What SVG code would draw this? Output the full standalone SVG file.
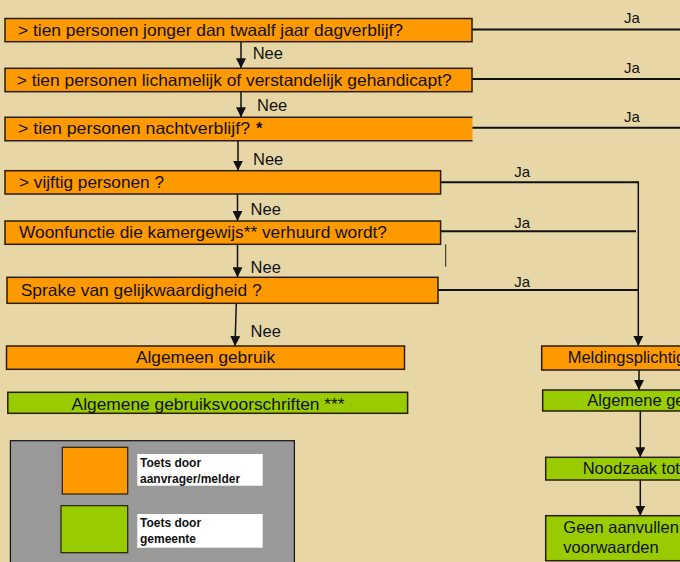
<svg xmlns="http://www.w3.org/2000/svg" width="680" height="562" viewBox="0 0 680 562">
<style>
.bg{fill:#E7D7A7}
.o{fill:#FF9900;stroke:#2a1e00;stroke-width:1.5}
.g{fill:#99CC00;stroke:#2a1e00;stroke-width:1.5}
.t{font-family:"Liberation Sans",Arial,Helvetica,sans-serif;font-size:16.5px;fill:#111}
.ja{font-family:"Liberation Sans",Arial,Helvetica,sans-serif;font-size:15px;fill:#111}
.lg{font-family:"Liberation Sans",Arial,Helvetica,sans-serif;font-size:12px;font-weight:bold;fill:#111}
.c{fill:none;stroke:#111;stroke-width:2}
.a{fill:none;stroke:#111;stroke-width:1.5;marker-end:url(#ah)}
</style>
<defs>
<marker id="ah" markerUnits="userSpaceOnUse" markerWidth="10" markerHeight="10" refX="10" refY="5" orient="auto" viewBox="0 0 10 10">
<path d="M0,0 L10,5 L0,10 z" fill="#111"/>
</marker>
</defs>
<rect class="bg" x="0" y="0" width="680" height="562"/>

<g id="connectors">
<line class="c" x1="472" y1="29.5" x2="680" y2="29.5"/>
<line class="c" x1="472" y1="79" x2="680" y2="79"/>
<line class="c" x1="472" y1="127.7" x2="680" y2="127.7"/>
<line class="c" x1="440.6" y1="182.3" x2="638.3" y2="182.3"/>
<line class="c" x1="440.6" y1="231.3" x2="636" y2="231.3"/>
<line class="c" x1="438" y1="290" x2="638.3" y2="290"/>
<line class="a" x1="638.3" y1="181.3" x2="638.3" y2="346"/>
<line x1="445.7" y1="244.3" x2="445.7" y2="266.7" stroke="#222" stroke-width="1"/>
<line class="a" x1="241" y1="41.7" x2="241" y2="68.3"/>
<line class="a" x1="241" y1="91.7" x2="241" y2="117.3"/>
<line class="a" x1="238" y1="140.7" x2="238" y2="170.7"/>
<line class="a" x1="237.5" y1="194" x2="237.5" y2="221"/>
<line class="a" x1="237.5" y1="244" x2="237.5" y2="277.3"/>
<line class="a" x1="236.3" y1="303.3" x2="235" y2="346"/>
<line class="a" x1="639" y1="370" x2="639" y2="390"/>
<line class="a" x1="640.3" y1="411" x2="640.3" y2="457.3"/>
<line class="a" x1="640.3" y1="480" x2="640.3" y2="515.7"/>
<text class="ja" x="624" y="23.3">Ja</text>
<text class="ja" x="624" y="72.7">Ja</text>
<text class="ja" x="624" y="122">Ja</text>
<text class="ja" x="514.3" y="177.3">Ja</text>
<text class="ja" x="514.3" y="228.3">Ja</text>
<text class="ja" x="514.3" y="286.7">Ja</text>
<text class="t" x="252.7" y="59.3">Nee</text>
<text class="t" x="257" y="110.7">Nee</text>
<text class="t" x="253" y="165">Nee</text>
<text class="t" x="250.6" y="215.3">Nee</text>
<text class="t" x="250.6" y="272.7">Nee</text>
<text class="t" x="250.6" y="336.7">Nee</text>
</g>

<g id="q1">
<rect class="o" x="5" y="18.5" width="467" height="23.2"/>
<text class="t" x="18" y="35.5" textLength="385" lengthAdjust="spacingAndGlyphs">&gt; tien personen jonger dan twaalf jaar dagverblijf?</text>
</g>
<g id="q2">
<rect class="o" x="5" y="68.3" width="467" height="23.4"/>
<text class="t" x="16.7" y="86" textLength="435" lengthAdjust="spacingAndGlyphs">&gt; tien personen lichamelijk of verstandelijk gehandicapt?</text>
</g>
<g id="q3">
<rect x="5" y="117.3" width="467.5" height="23.4" fill="#FF9900"/>
<path d="M472.5,117.3 H5 V140.7 H472.5" fill="none" stroke="#2a1e00" stroke-width="1.5"/>
<text class="t" x="18" y="133.5" textLength="232" lengthAdjust="spacingAndGlyphs">&gt; tien personen nachtverblijf?</text>
<text class="t" x="256" y="133.5" font-weight="bold">*</text>
</g>
<g id="q4">
<rect class="o" x="5" y="170.7" width="435.6" height="23.3"/>
<text class="t" x="19" y="187.7" textLength="145" lengthAdjust="spacingAndGlyphs">&gt; vijftig personen ?</text>
</g>
<g id="q5">
<rect class="o" x="5" y="221" width="435.6" height="23.3"/>
<text class="t" x="19" y="237.5" textLength="368" lengthAdjust="spacingAndGlyphs">Woonfunctie die kamergewijs** verhuurd wordt?</text>
</g>
<g id="q6">
<rect class="o" x="7" y="277.3" width="431" height="26"/>
<text class="t" x="20.7" y="295.5" textLength="241" lengthAdjust="spacingAndGlyphs">Sprake van gelijkwaardigheid ?</text>
</g>
<g id="algemeen-gebruik">
<rect class="o" x="6.5" y="346" width="398" height="23.3"/>
<text class="t" x="136" y="363.3" textLength="139" lengthAdjust="spacingAndGlyphs">Algemeen gebruik</text>
</g>
<g id="algemene-voorschriften">
<rect class="g" x="7.8" y="392.3" width="399.8" height="21"/>
<text class="t" x="71.6" y="409.5" textLength="273" lengthAdjust="spacingAndGlyphs">Algemene gebruiksvoorschriften ***</text>
</g>

<g id="meldingsplichtig">
<rect class="o" x="541.7" y="346" width="150" height="24"/>
<text class="t" x="567.7" y="363.3">Meldingsplichtig</text>
</g>
<g id="algemene-ge">
<rect class="g" x="542.7" y="390" width="150" height="21"/>
<text class="t" x="587.3" y="406">Algemene ge</text>
</g>
<g id="noodzaak">
<rect class="g" x="545.7" y="457.3" width="150" height="22.7"/>
<text class="t" x="582.7" y="474">Noodzaak tot</text>
</g>
<g id="geen-aanvullen">
<rect class="g" x="545.7" y="515.7" width="150" height="45"/>
<text class="t" x="563.3" y="533.3">Geen aanvullen</text>
<text class="t" x="563.3" y="553.3">voorwaarden</text>
</g>

<g id="legend">
<rect x="10.4" y="440.7" width="284" height="130" fill="#999999" stroke="#111" stroke-width="1.2"/>
<rect x="62.3" y="447.3" width="65.4" height="46.7" fill="#FF9900" stroke="#2a1e00" stroke-width="1.2"/>
<rect x="137.3" y="454" width="125.4" height="31.7" fill="#FFFFFF"/>
<text class="lg" x="140" y="467.3">Toets door</text>
<text class="lg" x="140" y="483.3">aanvrager/melder</text>
<rect x="61" y="505.7" width="66.7" height="47" fill="#99CC00" stroke="#2a1e00" stroke-width="1.2"/>
<rect x="137.3" y="514" width="125.4" height="33.7" fill="#FFFFFF"/>
<text class="lg" x="140" y="527.3">Toets door</text>
<text class="lg" x="140" y="542.7">gemeente</text>
</g>
</svg>
